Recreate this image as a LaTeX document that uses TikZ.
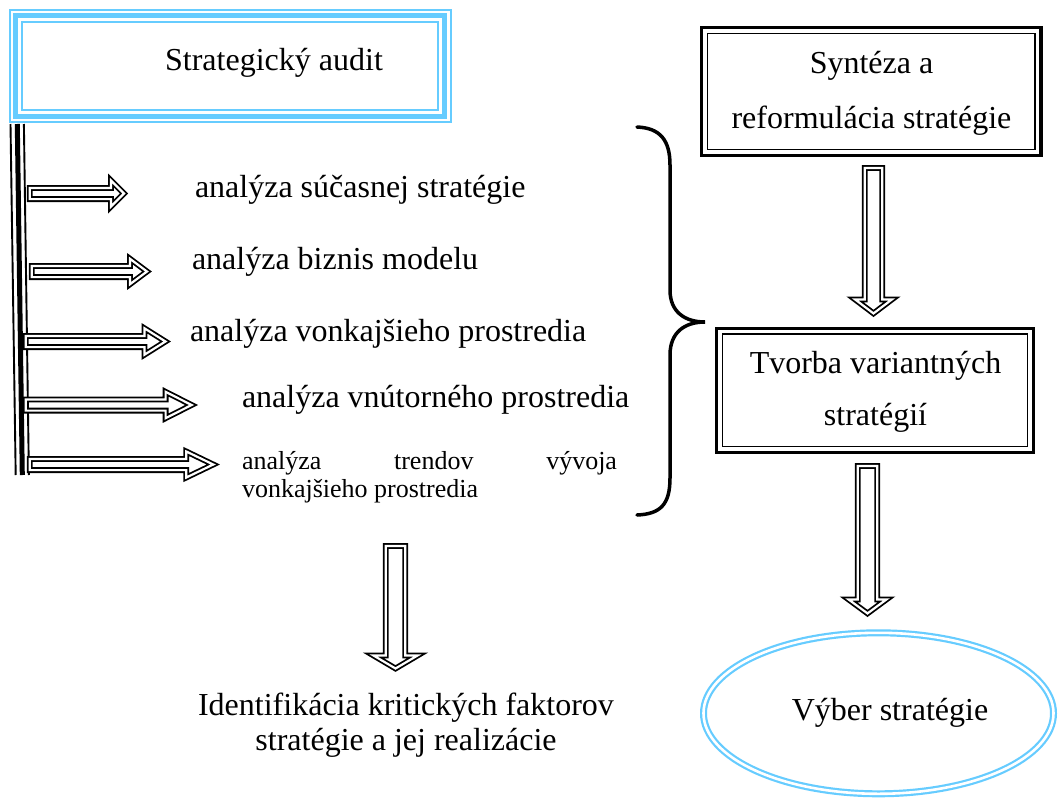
\documentclass[tikz,border=0pt]{standalone}
\usepackage{fontspec}
\setmainfont{Liberation Serif}
\usetikzlibrary{calc,shapes.geometric}
\definecolor{skyframe}{RGB}{102,204,255}

\tikzset{
  txt/.style={font=\fontsize{32}{38}\selectfont, inner sep=0pt, outer sep=0pt},
  smalltxt/.style={font=\fontsize{26}{28.5}\selectfont, inner sep=0pt, outer sep=0pt},
  blackframe/.style={draw=black, line width=3.3pt, inner sep=0pt, outer sep=0pt},
  thinframe/.style={draw=black, line width=1.7pt},
  blueframe/.style={draw=skyframe, line width=2pt, inner sep=0pt, outer sep=0pt},
  bluethick/.style={draw=skyframe, line width=4.6pt},
  bluethin/.style={draw=skyframe, line width=2pt},
  blockarrow/.style={draw=black, double=white, line width=1.8pt, double distance=2.2pt,
    line join=miter, miter limit=10},
  brace/.style={draw=black, line width=3.5pt, line cap=round},
  rail/.style={draw=black, line width=#1},
}

% hollow arrow pointing right: tail coordinate, tip coordinate, head length, head half width
\newcommand{\rightblock}[4]{%
  \draw[blockarrow] let \p1=(#1), \p2=(#2) in
    (\x1,\y1+5.6pt) -- (\x2-#3,\y1+5.6pt) -- (\x2-#3,\y1+#4) -- (\x2,\y1)
    -- (\x2-#3,\y1-#4) -- (\x2-#3,\y1-5.6pt) -- (\x1,\y1-5.6pt) -- cycle;}

% hollow arrow pointing down: top coordinate, tip coordinate, head length, shaft half width, head half width
\newcommand{\downblock}[5]{%
  \draw[blockarrow] let \p1=(#1), \p2=(#2) in
    (\x1-#4,\y1) -- (\x1-#4,\y2+#3) -- (\x1-#5,\y2+#3) -- (\x1,\y2)
    -- (\x1+#5,\y2+#3) -- (\x1+#4,\y2+#3) -- (\x1+#4,\y1) -- cycle;}

\begin{document}
\begin{tikzpicture}[x=1pt,y=-1pt]
\useasboundingbox[fill=white] (0,0) rectangle (1058,798);

% --- strategic audit box with triple light-blue frame
\node[blueframe, minimum width=441.3pt, minimum height=112.8pt] (audit) at (230.15,65.9) {};
\draw[bluethick] ([shift={(6.1pt,-6.1pt)}]audit.north west) rectangle ([shift={(-6.1pt,6.1pt)}]audit.south east);
\draw[bluethin] ([shift={(12.4pt,-12.4pt)}]audit.north west) rectangle ([shift={(-12.4pt,12.4pt)}]audit.south east);
\node[txt, anchor=base] (auditlabel) at (274,70) {Strategický audit};

% --- vertical rail below the audit box
\coordinate (railtop) at (17.3,124);
\coordinate (railbot) at (22.3,475);
\draw[rail=5pt] (railtop) -- (railbot);
\draw[rail=1.9pt] ([xshift=-6.8pt]railtop) -- ([xshift=-6.6pt]railbot);
\draw[rail=1.9pt] ([xshift=6.6pt]railtop) -- ([xshift=6.6pt]railbot);

% --- analysis items
\coordinate (t1) at (29.7,193.5);   \coordinate (h1) at (124,193.5);
\coordinate (t2) at (31.7,271.5);   \coordinate (h2) at (147,271.5);
\coordinate (t3) at (25.7,341.5);   \coordinate (h3) at (165.5,341.5);
\coordinate (t4) at (25.7,405);     \coordinate (h4) at (191.6,405);
\coordinate (t5) at (29.7,464.5);   \coordinate (h5) at (213.3,464.5);
\rightblock{t1}{h1}{13pt}{13pt}
\rightblock{t2}{h2}{17pt}{12.7pt}
\rightblock{t3}{h3}{21pt}{13.2pt}
\rightblock{t4}{h4}{26pt}{13.2pt}
\rightblock{t5}{h5}{27pt}{13pt}

\node[txt, anchor=base west] (a1) at (195,197) {analýza súčasnej stratégie};
\node[txt, anchor=base west] (a2) at (192,269) {analýza biznis modelu};
\node[txt, anchor=base west] (a3) at (190,341) {analýza vonkajšieho prostredia};
\node[txt, anchor=base west] (a4) at (242,407) {analýza vnútorného prostredia};
\node[smalltxt, anchor=base west, text width=375pt, align=justify] (a5) at (242,469)
  {analýza trendov vývoja\linebreak vonkajšieho prostredia};

% --- brace gathering the analyses
\draw[brace] (637,127) .. controls (660,128) and (670,140) .. (670,165) -- (670,290)
  .. controls (670,312) and (685,322) .. (705,322)
  .. controls (685,322) and (670,332) .. (670,355) -- (670,478)
  .. controls (670,505) and (660,514) .. (637,515);

% --- arrow from the analyses to the critical factors
\coordinate (leftdowntop) at (395.5,546);
\coordinate (leftdowntip) at (395.5,668.5);
\downblock{leftdowntop}{leftdowntip}{13pt}{9.8pt}{22pt}
\node[txt, font=\fontsize{32}{35}\selectfont, align=center, anchor=base] (factors) at (406,750)
  {Identifikácia kritických faktorov\\stratégie a jej realizácie};

% --- right column
\node[blackframe, minimum width=339.3pt, minimum height=127.6pt] (synth) at (871.4,91.5) {};
\draw[thinframe] ([shift={(5.8pt,-5.8pt)}]synth.north west) rectangle ([shift={(-5.8pt,5.8pt)}]synth.south east);
\node[txt, font=\fontsize{32}{55}\selectfont, align=center, anchor=base] (synthlabel) at (871.5,128)
  {Syntéza a\\reformulácia stratégie};

\node[blackframe, minimum width=316.6pt, minimum height=124pt] (variants) at (875,390.3) {};
\draw[thinframe] ([shift={(5.8pt,-5.8pt)}]variants.north west) rectangle ([shift={(-5.8pt,5.8pt)}]variants.south east);
\node[txt, font=\fontsize{32}{52.5}\selectfont, align=center, anchor=base] (variantslabel) at (875.5,425.5)
  {Tvorba variantných\\stratégií};

\node[draw=skyframe, double=white, line width=2.2pt, double distance=2.6pt, ellipse,
      inner sep=0pt, minimum width=350pt, minimum height=161pt] (choice) at (878.5,713.3) {};
\node[txt, anchor=base] (choicelabel) at (890,720) {Výber stratégie};

\coordinate (d1top) at (873.5,168);
\coordinate (d1tip) at (873.5,313.4);
\downblock{d1top}{d1tip}{14pt}{8.8pt}{18.5pt}
\coordinate (d2top) at (867.5,466);
\coordinate (d2tip) at (867.5,613.4);
\downblock{d2top}{d2tip}{14pt}{9.8pt}{19pt}
\end{tikzpicture}
\end{document}
